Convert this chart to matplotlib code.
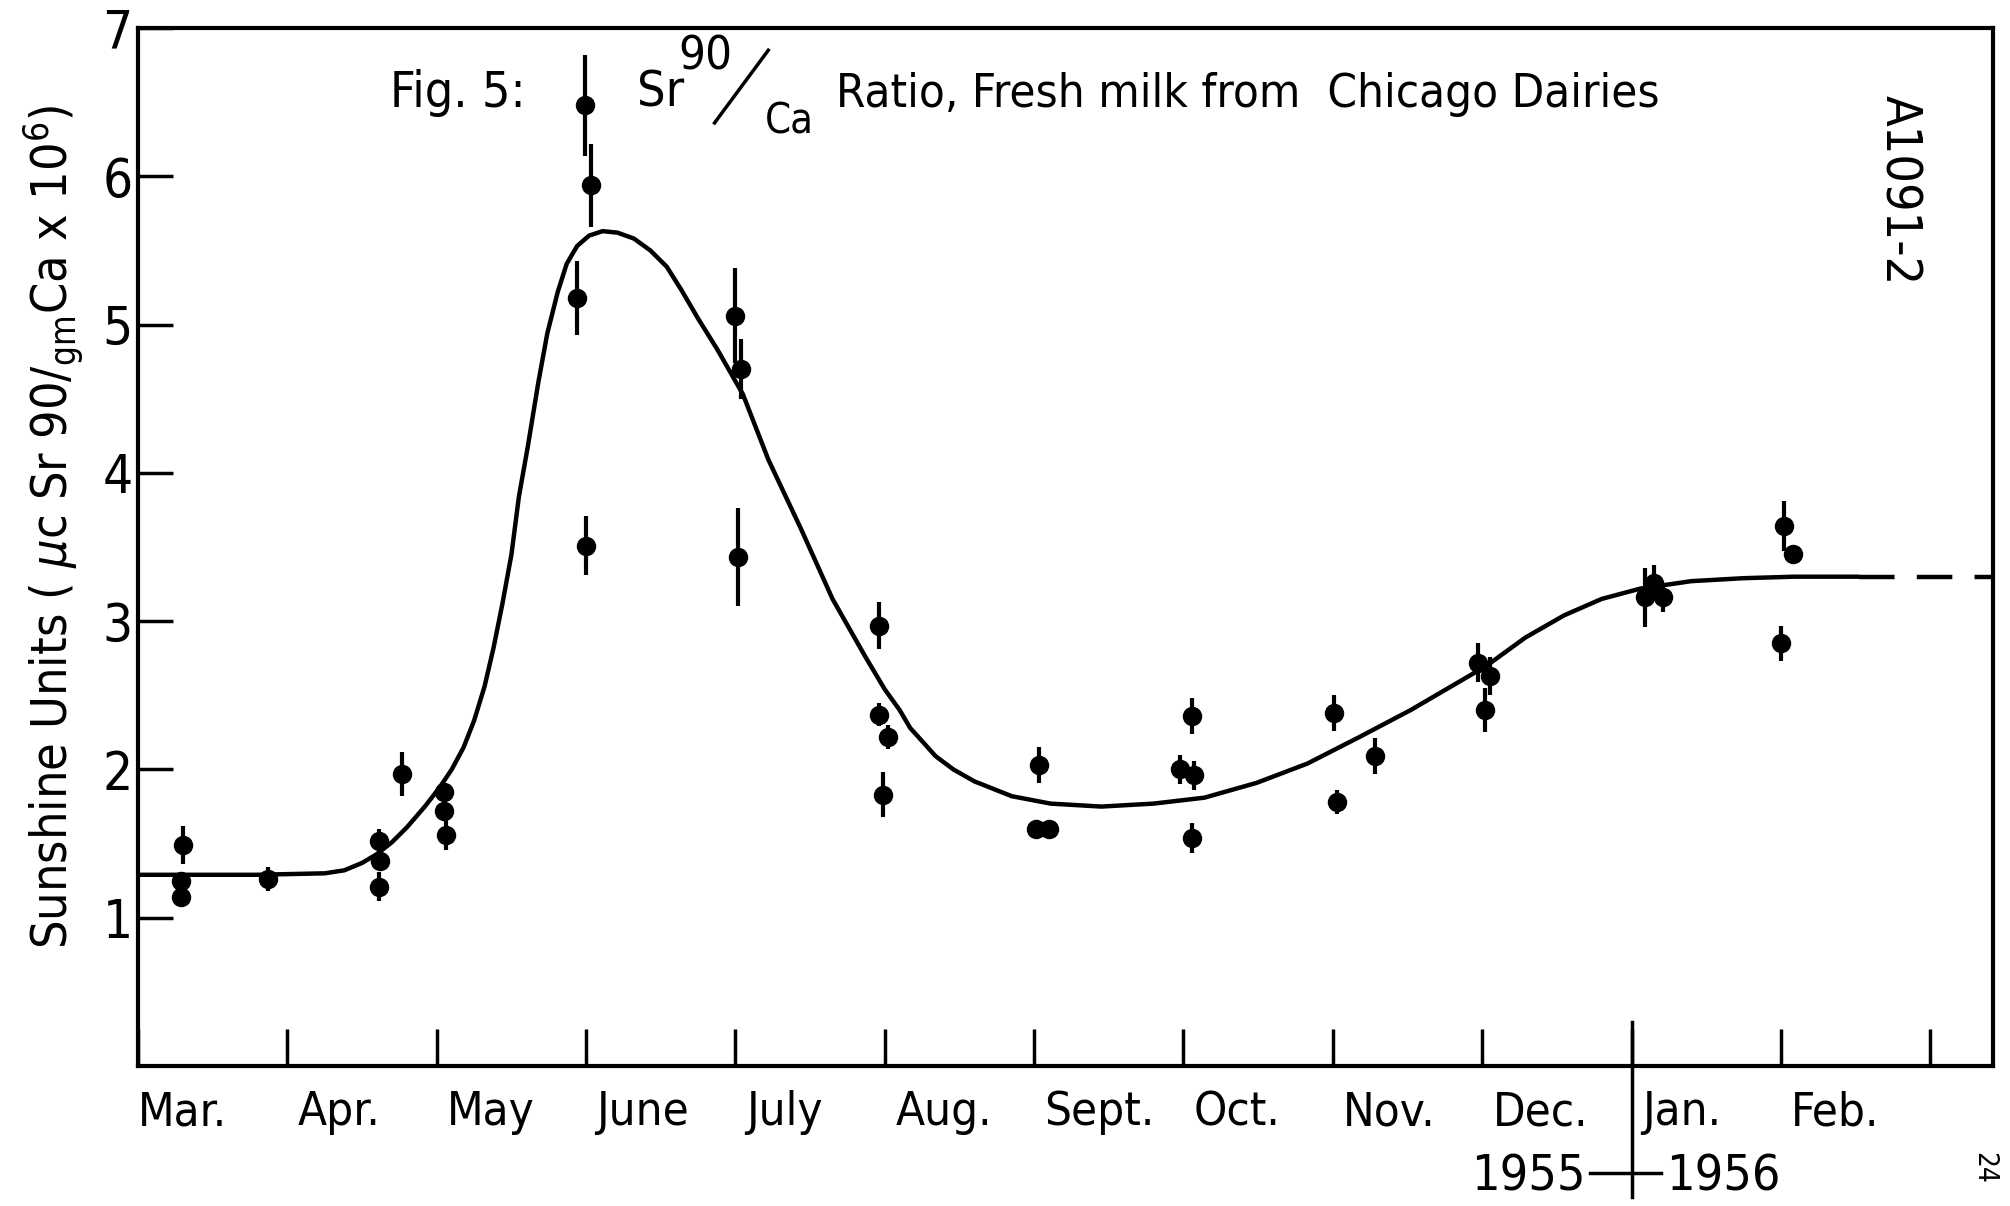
import matplotlib
matplotlib.use('Agg')
import matplotlib.pyplot as plt

plt.rcParams['font.family'] = ['DejaVu Sans']
plt.rcParams['font.stretch'] = 'condensed'
plt.rcParams['mathtext.fontset'] = 'dejavusans'

# months counted from 1 March 1955
months = ['Mar.', 'Apr.', 'May', 'June', 'July', 'Aug.', 'Sept.', 'Oct.',
          'Nov.', 'Dec.', 'Jan.', 'Feb.']

# measured Sr90/Ca ratios (sunshine units) with error half-widths
obs_t = [0.30, 0.29, 0.29, 0.87, 1.61, 1.62, 1.61, 1.77, 2.05, 2.05, 2.06,
         2.99, 3.03, 2.94, 3.00, 4.00, 4.04, 4.02, 4.96, 4.96, 5.02, 4.99,
         6.03, 6.01, 6.10, 6.98, 7.07, 7.06, 7.06, 8.01, 8.03, 8.28,
         8.97, 9.05, 9.02, 10.09, 10.15, 10.21, 11.02, 11.08, 11.00]
obs_su = [1.49, 1.25, 1.14, 1.26, 1.52, 1.38, 1.21, 1.97, 1.85, 1.72, 1.56,
          6.48, 5.94, 5.18, 3.51, 5.06, 4.70, 3.43, 2.97, 2.37, 2.22, 1.83,
          2.03, 1.60, 1.60, 2.00, 1.96, 2.36, 1.54, 2.38, 1.78, 2.09,
          2.72, 2.63, 2.40, 3.16, 3.26, 3.16, 3.64, 3.45, 2.85]
obs_err = [0.13, 0.05, 0.05, 0.08, 0.08, 0.05, 0.10, 0.15, 0.05, 0.05, 0.10,
           0.34, 0.28, 0.25, 0.20, 0.32, 0.20, 0.33, 0.16, 0.08, 0.08, 0.15,
           0.12, 0.0, 0.0, 0.10, 0.10, 0.12, 0.10, 0.12, 0.08, 0.12,
           0.13, 0.13, 0.15, 0.20, 0.12, 0.10, 0.17, 0.05, 0.12]

# hand-drawn smooth curve
curve_t = [0.00, 0.79, 1.25, 1.38, 1.50, 1.60, 1.70, 1.80, 1.92, 2.02,
           2.10, 2.18, 2.25, 2.32, 2.38, 2.44, 2.50, 2.55, 2.61, 2.68,
           2.74, 2.81, 2.87, 2.94, 3.02, 3.11, 3.21, 3.32, 3.43, 3.54,
           3.64, 3.75, 3.88, 4.05, 4.22, 4.44, 4.65, 4.87, 5.00, 5.10,
           5.17, 5.26, 5.34, 5.46, 5.60, 5.85, 6.11, 6.45, 6.80, 7.14,
           7.49, 7.83, 8.18, 8.52, 8.86, 9.03, 9.29, 9.55, 9.80, 10.06,
           10.40, 10.75, 11.09, 11.52]
curve_su = [1.29, 1.29, 1.30, 1.32, 1.37, 1.43, 1.51, 1.61, 1.75, 1.88,
            2.00, 2.15, 2.33, 2.56, 2.82, 3.12, 3.45, 3.84, 4.18, 4.61,
            4.94, 5.22, 5.41, 5.53, 5.60, 5.63, 5.62, 5.58, 5.50, 5.39,
            5.23, 5.04, 4.83, 4.53, 4.09, 3.62, 3.15, 2.76, 2.54, 2.40,
            2.28, 2.18, 2.09, 2.00, 1.92, 1.82, 1.77, 1.75, 1.77, 1.81,
            1.91, 2.04, 2.22, 2.40, 2.60, 2.70, 2.89, 3.04, 3.15, 3.22,
            3.27, 3.29, 3.30, 3.30]
dash_t = [11.52, 12.42]
dash_su = [3.30, 3.30]

fig = plt.figure(figsize=(20.1, 12.06), dpi=100)
ax = fig.add_axes([0.0687, 0.116, 0.9228, 0.8608])

ax.plot(curve_t, curve_su, color='black', lw=3.2, solid_capstyle='round',
        solid_joinstyle='round')
ax.plot(dash_t, dash_su, color='black', lw=3.2, dashes=(8, 5))
ax.errorbar(obs_t, obs_su, yerr=obs_err, fmt='o', color='black', ms=13,
            elinewidth=3, capsize=0)

ax.set_xlim(0, 12.42)
ax.set_ylim(0, 7)
for s in ax.spines.values():
    s.set_linewidth(3)

ax.set_xticks(range(13))
ax.set_xticklabels([])
ax.tick_params(axis='x', direction='in', length=27, width=2.5)
ax.set_yticks([1, 2, 3, 4, 5, 6, 7])
ax.set_yticklabels(['1', '2', '3', '4', '5', '6', '7'], fontsize=38)
ax.tick_params(axis='y', direction='in', length=25, width=2.5, pad=4)

for i, m in enumerate(months):
    off = 0.0 if i == 0 else 0.07
    ax.text(i + off, -0.40, m, fontsize=34, ha='left', va='baseline',
            clip_on=False)

# year divider
ax.plot([10, 10], [0.30, -0.88], color='black', lw=2.5, clip_on=False)
ax.plot([9.72, 10.2], [-0.72, -0.72], color='black', lw=2.5, clip_on=False)
ax.text(9.69, -0.84, '1955', fontsize=36, ha='right', va='baseline')
ax.text(10.23, -0.84, '1956', fontsize=36, ha='left', va='baseline')

# title
ax.text(1.69, 6.47, 'Fig. 5:', fontsize=36, ha='left', va='baseline')
ax.text(3.34, 6.47, 'Sr', fontsize=36, ha='left', va='baseline')
ax.text(3.62, 6.72, '90', fontsize=34, ha='left', va='baseline')
ax.plot([3.86, 4.22], [6.36, 6.85], color='black', lw=2.5)
ax.text(4.2, 6.29, 'Ca', fontsize=30, ha='left', va='baseline')
ax.text(4.67, 6.47, 'Ratio, Fresh milk from  Chicago Dairies', fontsize=34,
        ha='left', va='baseline')

ax.text(11.79, 5.91, 'A1091-2', fontsize=36, rotation=-90, ha='center',
        va='center')
ax.text(12.36, -0.69, '24', fontsize=20, rotation=-90, ha='center',
        va='center', clip_on=False)

fig.text(0.027, 0.563,
         r'Sunshine Units ( $\mu$c Sr 90$/_{\mathrm{gm}}$Ca x 10$^{6}$)',
         fontsize=36, rotation=90, ha='center', va='center')

fig.savefig('out.png', dpi=100)
